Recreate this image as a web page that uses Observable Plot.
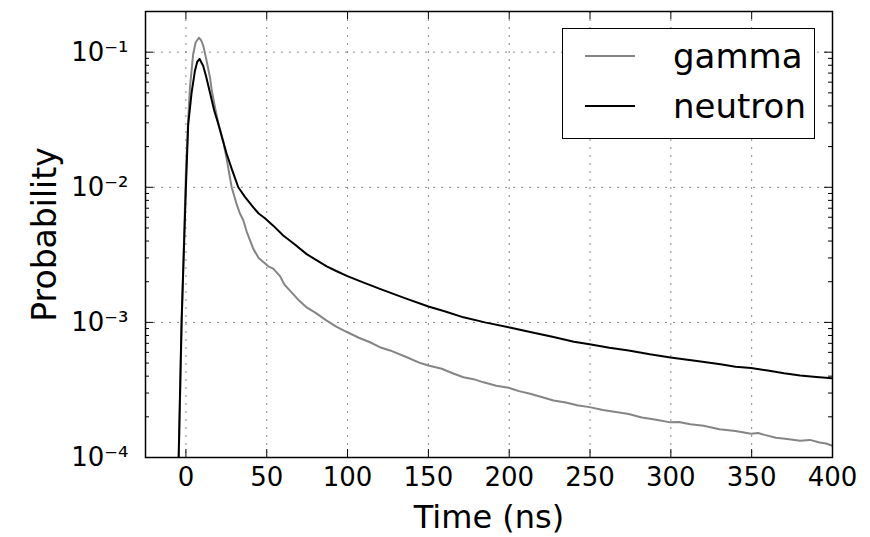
<!DOCTYPE html>
<html>
<head>
<meta charset="utf-8">
<script src="https://cdn.jsdelivr.net/npm/d3@7"></script>
<script src="https://cdn.jsdelivr.net/npm/@observablehq/plot@0.6"></script>
<style>
  body { margin: 0; background: #fff; }
  #wrap { position: relative; width: 870px; height: 537px; font-family: "DejaVu Sans", sans-serif; }
  #legend { position: absolute; left: 562px; top: 28px; width: 253px; height: 111px; box-sizing: border-box;
            border: 1.5px solid #000; background: #fff; }
  .sample { position: absolute; left: 22px; width: 50px; height: 2px; }
  .lab { position: absolute; left: 110px; font-size: 34px; line-height: 34px; color: #000; white-space: nowrap; }
</style>
</head>
<body>
<div id="wrap">
  <div id="chart"></div>
  <div id="legend"></div>
</div>
<script>
// ---- data ----
const seriesNames = ["gamma", "neutron"];
const seriesColors = ["#858585", "#000000"];

const time_gamma = [-5, -4.4, -2.6, 0, 1.4, 2.5, 4.5, 6, 8, 9.5, 10.7, 12.5, 14.9, 16, 18, 20, 23.1, 25.5, 28.3, 31.4, 33.4, 35.5, 37.6, 41.7, 45, 47.9, 51, 54, 58.2, 61, 64.4, 70, 74.7, 80, 87.1, 93, 99.9, 107, 113.9, 120, 126.3, 136.7, 145, 150, 158.3, 165, 171.7, 178, 184.1, 192, 199.6, 206, 213, 220, 227.4, 235, 242, 249.7, 258, 265, 273.9, 282, 291, 299.7, 305, 312, 320.3, 330, 340, 349.6, 354, 358, 365, 372, 380, 386, 392, 396, 400];
const prob_gamma = [6e-5, 1e-4, 1e-3, 0.013, 0.0315, 0.055, 0.097, 0.118, 0.128, 0.122, 0.112, 0.09, 0.065, 0.052, 0.039, 0.03, 0.022, 0.0155, 0.01, 0.0075, 0.0064, 0.0057, 0.0047, 0.0035, 0.003, 0.0028, 0.0026, 0.0025, 0.0022, 0.0019, 0.00172, 0.00145, 0.00129, 0.00118, 0.00103, 0.00093, 0.000845, 0.00077, 0.000713, 0.000655, 0.00062, 0.000552, 0.0005, 0.00048, 0.000454, 0.00042, 0.000393, 0.00038, 0.00036, 0.00034, 0.000328, 0.00031, 0.000296, 0.00028, 0.000264, 0.000255, 0.000244, 0.000236, 0.000225, 0.000218, 0.00021, 0.000198, 0.00019, 0.000182, 0.000183, 0.000176, 0.000172, 0.000162, 0.000157, 0.00015, 0.000152, 0.000147, 0.00014, 0.000137, 0.000133, 0.000135, 0.000129, 0.000127, 0.000122];

const time_neutron = [-5, -4.5, -2.7, 0, 1.4, 3.5, 5.6, 7, 8.5, 10.7, 12.5, 14.9, 17.5, 20, 22.5, 25.2, 28.5, 32.4, 36.5, 41.7, 45, 48.9, 54, 60.2, 67, 74.7, 80.5, 87.1, 93, 99.9, 110, 120, 135, 150, 160, 171.7, 185, 199.6, 213, 227.4, 240, 249.7, 262, 273.9, 287, 299.7, 315, 330.7, 340, 349.6, 360, 370, 380, 390, 400];
const prob_neutron = [6e-5, 1e-4, 1e-3, 0.01, 0.029, 0.05, 0.073, 0.085, 0.089, 0.079, 0.066, 0.05, 0.037, 0.0295, 0.023, 0.0177, 0.0135, 0.01, 0.0085, 0.0071, 0.0064, 0.0059, 0.0052, 0.0044, 0.0038, 0.0032, 0.0029, 0.0026, 0.0024, 0.0022, 0.00197, 0.00177, 0.00152, 0.00131, 0.00121, 0.00109, 0.001, 0.00092, 0.00085, 0.00078, 0.00072, 0.00069, 0.00065, 0.00062, 0.00058, 0.00055, 0.00052, 0.00049, 0.00047, 0.00046, 0.00044, 0.00042, 0.000405, 0.000395, 0.000385];

const xTicks = [0, 50, 100, 150, 200, 250, 300, 350, 400];
const yTicks = [1e-4, 1e-3, 1e-2, 1e-1];
const yTickLabels = ["10\u207B\u2074", "10\u207B\u00B3", "10\u207B\u00B2", "10\u207B\u00B9"];
const yMinorTicks = [2e-4, 3e-4, 4e-4, 5e-4, 6e-4, 7e-4, 8e-4, 9e-4,
                     2e-3, 3e-3, 4e-3, 5e-3, 6e-3, 7e-3, 8e-3, 9e-3,
                     2e-2, 3e-2, 4e-2, 5e-2, 6e-2, 7e-2, 8e-2, 9e-2, 2e-1];
const xLabel = "Time (ns)";
const yLabel = "Probability";

// ---- build ----
const gamma = time_gamma.map((t, i) => ({t, p: prob_gamma[i]}));
const neutron = time_neutron.map((t, i) => ({t, p: prob_neutron[i]}));

const W = 870, H = 537, mL = 145, mR = 38, mT = 11, mB = 80;
const pw = W - mL - mR, ph = H - mT - mB;
const majorLen = 8, minorLen = 4;
const gridStyle = {stroke: "#8a8a8a", strokeWidth: 1, strokeDasharray: "2,6"};

const chart = Plot.plot({
  width: W, height: H,
  marginLeft: mL, marginRight: mR, marginTop: mT, marginBottom: mB,
  x: {domain: [-25, 400]},
  y: {type: "log", domain: [1e-4, 0.2]},
  style: {fontFamily: "DejaVu Sans", fontSize: "26px", color: "#000", background: "#fff"},
  marks: [
    Plot.ruleX(xTicks.slice(0, -1), gridStyle),
    Plot.ruleY(yTicks.slice(1), gridStyle),
    Plot.line(gamma, {x: "t", y: "p", stroke: seriesColors[0], strokeWidth: 2, clip: true}),
    Plot.line(neutron, {x: "t", y: "p", stroke: seriesColors[1], strokeWidth: 2, clip: true}),
    // inward ticks
    Plot.ruleX(xTicks, {stroke: "#000", insetTop: ph - majorLen}),
    Plot.ruleX(xTicks, {stroke: "#000", insetBottom: ph - majorLen}),
    Plot.ruleY(yTicks, {stroke: "#000", insetRight: pw - majorLen}),
    Plot.ruleY(yTicks, {stroke: "#000", insetLeft: pw - majorLen}),
    Plot.ruleY(yMinorTicks, {stroke: "#000", insetRight: pw - minorLen}),
    Plot.ruleY(yMinorTicks, {stroke: "#000", insetLeft: pw - minorLen}),
    Plot.frame({stroke: "#000", strokeWidth: 1.5}),
    Plot.axisX(xTicks, {tickSize: 0, tickPadding: 10, fontSize: 26, label: null}),
    Plot.axisY(yTicks, {tickSize: 0, tickPadding: 17, fontSize: 26, label: null,
      tickFormat: (v) => yTickLabels[yTicks.indexOf(v)]}),
    Plot.text([xLabel], {text: (d) => d, frameAnchor: "bottom", textAnchor: "middle", lineAnchor: "middle", dy: 60, fontSize: 32}),
    Plot.text([yLabel], {text: (d) => d, frameAnchor: "left", textAnchor: "middle", lineAnchor: "middle", dx: -100, rotate: -90, fontSize: 33})
  ]
});
document.getElementById("chart").appendChild(chart);

// legend
const legend = document.getElementById("legend");
seriesNames.forEach((name, i) => {
  const cy = 27 + i * 50;
  const s = document.createElement("div");
  s.className = "sample";
  s.style.top = (cy - 1) + "px";
  s.style.background = seriesColors[i];
  legend.appendChild(s);
  const l = document.createElement("div");
  l.className = "lab";
  l.style.top = (cy - 17) + "px";
  l.textContent = name;
  legend.appendChild(l);
});
</script>
</body>
</html>
